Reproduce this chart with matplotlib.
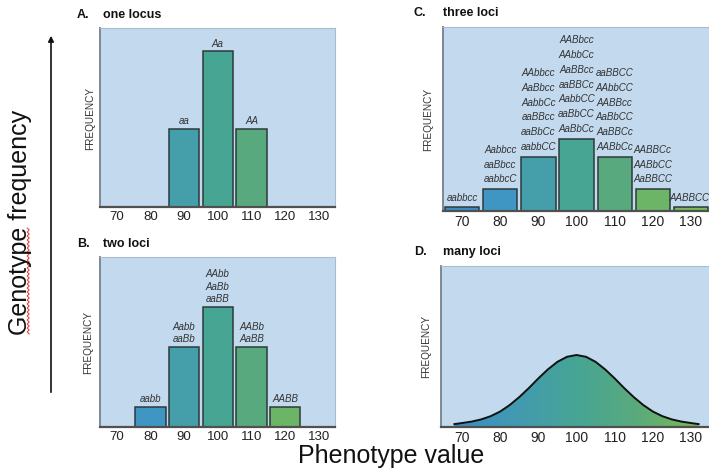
import numpy as np
import matplotlib
matplotlib.use("Agg")
import matplotlib.pyplot as plt
from matplotlib.colors import LinearSegmentedColormap

# ---------------- data ----------------
phenotypes = [70, 80, 90, 100, 110, 120, 130]
tick_labels = ["70", "80", "90", "100", "110", "120", "130"]

one_locus_freq = [0, 0, 1, 2, 1, 0, 0]
one_locus_genotypes = ["", "", "aa", "Aa", "AA", "", ""]

two_loci_freq = [0, 1, 4, 6, 4, 1, 0]
two_loci_genotypes = ["", "aabb", "Aabb\naaBb", "AAbb\nAaBb\naaBB", "AABb\nAaBB", "AABB", ""]

three_loci_freq = [1, 6, 15, 20, 15, 6, 1]
three_loci_genotypes = [
    "aabbcc",
    "Aabbcc\naaBbcc\naabbcC",
    "AAbbcc\nAaBbcc\nAabbCc\naaBBcc\naaBbCc\naabbCC",
    "AABbcc\nAAbbCc\nAaBBcc\naaBBCc\nAabbCC\naaBbCC\nAaBbCc",
    "aaBBCC\nAAbbCC\nAABBcc\nAaBbCC\nAaBBCc\nAABbCc",
    "AABBCc\nAABbCC\nAaBBCC",
    "AABBCC",
]

many_loci_x = [68, 70, 72.5, 75, 77.5, 80, 82.5, 85, 87.5, 90, 92.5, 95, 97.5, 100,
               102.5, 105, 107.5, 110, 112.5, 115, 117.5, 120, 122.5, 125, 127.5, 130, 132]
many_loci_freq = [0.04, 0.055, 0.075, 0.105, 0.15, 0.215, 0.305, 0.415, 0.54, 0.675, 0.80, 0.905, 0.975, 1.0,
                  0.975, 0.905, 0.80, 0.675, 0.54, 0.415, 0.305, 0.215, 0.15, 0.105, 0.075, 0.055, 0.04]

bar_colors = ["#3b8dc8", "#4096c2", "#459fab", "#47a593", "#58aa7e", "#6cb466", "#79ba58"]

# ---------------- style ----------------
W, H = 709, 470
BG = "#c2d9ee"
EDGE = "#2e3a3a"
SANS = ["Liberation Sans", "DejaVu Sans"]
plt.rcParams["font.family"] = SANS

fig = plt.figure(figsize=(W / 100, H / 100), dpi=100)


def px_axes(left, top, right, bottom):
    return fig.add_axes([left / W, 1 - bottom / H, (right - left) / W, (bottom - top) / H])


def style(ax, xlim, ylim, tsize):
    ax.set_facecolor(BG)
    ax.set_xlim(*xlim)
    ax.set_ylim(*ylim)
    ax.set_xticks(phenotypes)
    ax.set_xticklabels(tick_labels, fontsize=tsize, color="#222222")
    ax.set_yticks([])
    ax.tick_params(axis="x", length=0, pad=3)
    ax.spines["left"].set_color("#7c8894")
    ax.spines["left"].set_linewidth(1.4)
    ax.spines["bottom"].set_color("#505050")
    ax.spines["bottom"].set_linewidth(1.6)
    for s in ("top", "right"):
        ax.spines[s].set_color("#aabdcf")
        ax.spines[s].set_linewidth(0.8)


def bars(ax, freq, labels, fsize, offset, linesp, right_shift=0):
    for i, (x, f, lab, c) in enumerate(zip(phenotypes, freq, labels, bar_colors)):
        if f <= 0:
            continue
        ax.bar(x, f, width=9, color=c, edgecolor=EDGE, linewidth=1.1, zorder=2)
        if lab:
            dx = right_shift if i == len(phenotypes) - 1 else 0
            ax.annotate(lab, (x, f), xytext=(dx, offset), textcoords="offset points",
                        ha="center", va="bottom", fontsize=fsize, style="italic",
                        color="#333333", linespacing=linesp, zorder=3)


# Panel A
axA = px_axes(100, 28, 335, 207)
style(axA, (65, 134.8), (0, 2.3), 9.5)
bars(axA, one_locus_freq, one_locus_genotypes, 7, 2, 1.2)

# Panel B
axB = px_axes(100, 257, 335, 427)
style(axB, (65, 134.8), (0, 8.5), 9.5)
bars(axB, two_loci_freq, two_loci_genotypes, 7, 2, 1.3)

# Panel C
axC = px_axes(443, 27, 712, 211)
style(axC, (65, 135.5), (0, 51), 10)
bars(axC, three_loci_freq, three_loci_genotypes, 7, 3.5, 1.6, right_shift=-1)

# Panel D
axD = px_axes(441, 266, 712, 427)
style(axD, (64.5, 135.5), (0, 2.236), 10)
xs = np.array(many_loci_x)
ys = np.array(many_loci_freq)
poly = axD.fill_between(xs, 0, ys, color="none", zorder=2)
cmap = LinearSegmentedColormap.from_list("g", ["#3a8dc9", "#429ab1", "#47a595", "#5aaa7c", "#7bba55"])
grad = np.linspace(0, 1, 256).reshape(1, -1)
im = axD.imshow(grad, extent=(68, 132, 0, 1.05), aspect="auto", cmap=cmap, zorder=2)
im.set_clip_path(poly.get_paths()[0], transform=axD.transData)
axD.plot(xs, ys, color="#111111", lw=1.4, zorder=3)
axD.set_xlim(64.5, 135.5)
axD.set_ylim(0, 2.236)

# FREQUENCY labels
for (x, y) in [(90, 118), (88, 342), (428, 120), (426, 347)]:
    fig.text(x / W, 1 - y / H, "FREQUENCY", rotation=90, ha="center", va="center",
             fontsize=7.2, color="#333333")

# Panel titles
for (xl, xt, y, letter, title) in [(77, 103, 15, "A.", "one locus"),
                                   (413, 443, 13, "C.", "three loci"),
                                   (77, 103, 244, "B.", "two loci"),
                                   (414, 443, 252, "D.", "many loci")]:
    fig.text(xl / W, 1 - y / H, letter, ha="left", va="center", fontsize=9, fontweight="bold", color="#111111")
    fig.text(xt / W, 1 - y / H, title, ha="left", va="center", fontsize=9, fontweight="bold", color="#111111")

# Big axis labels
fig.text(20 / W, 1 - 222 / H, "Genotype frequency", rotation=90, ha="center", va="center",
         fontsize=18, color="#111111")
fig.text(391 / W, 1 - 456 / H, "Phenotype value", ha="center", va="center", fontsize=18, color="#111111")

# spell-check squiggle under "Genotype"
sy = np.arange(228, 336, 2.0)
sx = np.where(np.arange(len(sy)) % 2 == 0, 27.2, 29.2)
fig.add_artist(plt.Line2D(sx / W, 1 - sy / H, color="#e03030", lw=0.7, transform=fig.transFigure))

# Arrow
fig.add_artist(matplotlib.patches.FancyArrowPatch((51 / W, 1 - 395 / H), (51 / W, 1 - 33 / H),
                                                  transform=fig.transFigure, arrowstyle="-|>",
                                                  mutation_scale=8, color="#111111", lw=1.2))

fig.savefig("out.png", dpi=100, facecolor="white")
